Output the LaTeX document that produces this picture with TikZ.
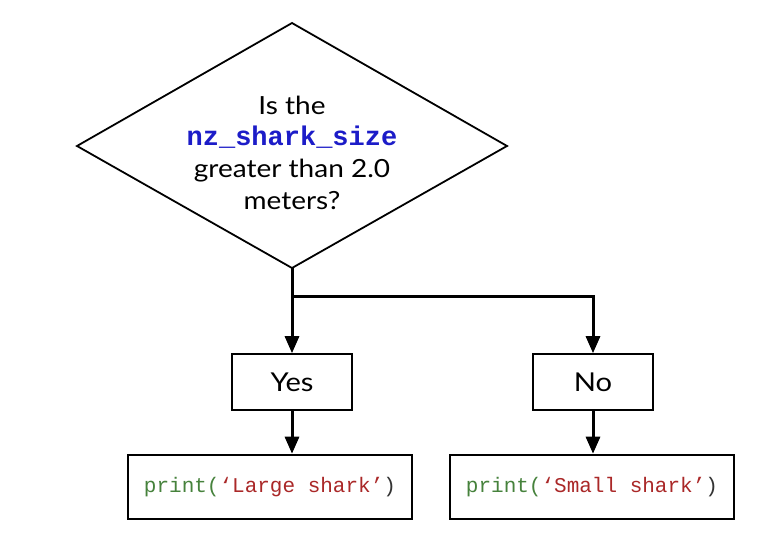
\documentclass[tikz,border=0pt]{standalone}
\usepackage{fontspec}
\setmainfont{Lato}[FakeStretch=1.12]
\newfontfamily\codefont{Liberation Mono}
\usetikzlibrary{arrows.meta}
\definecolor{codeblue}{RGB}{28,28,200}
\definecolor{codegreen}{RGB}{70,130,60}
\definecolor{codered}{RGB}{170,40,40}
\tikzset{
  box/.style={draw=black, line width=1.6pt, minimum width=120pt, minimum height=56pt, inner sep=0pt, font=\fontsize{26}{30}\selectfont},
  codebox/.style={draw=black, line width=2.6pt, minimum width=284pt, minimum height=64pt, inner sep=0pt, font=\codefont\fontsize{21}{24}\selectfont},
  conn/.style={line width=3pt, -{Triangle[length=17pt,width=14pt]}},
  plain/.style={line width=3pt},
}
\begin{document}
\begin{tikzpicture}[x=1pt,y=-1pt]
\useasboundingbox[fill=white] (0,0) rectangle (777,538);
\draw[line width=1.8pt, line join=miter] (292,23) -- (507,146) -- (292,268) -- (77,146) -- cycle;
\node[align=center, font=\fontsize{25}{32}\selectfont] (q) at (292,153) {Is the\\[-1pt]{\codefont\bfseries\fontsize{27}{28}\selectfont\color{codeblue}nz\_shark\_size}\\greater than 2.0\\meters?};
\coordinate (dbot) at (292,268);
\coordinate (split) at (292,296);
\coordinate (corner) at (593,296);
\node[box] (yes) at (292,382) {Yes};
\node[box] (no) at (593,382) {No};
\node[codebox] (large) at (270,487) {\textcolor{codegreen}{print(}\textcolor{codered}{‘Large shark’}\textcolor{black!80}{)}};
\node[codebox] (small) at (592,487) {\textcolor{codegreen}{print(}\textcolor{codered}{‘Small shark’}\textcolor{black!80}{)}};
\draw[conn] (dbot) -- (yes.north);
\draw[plain] (split) -- (corner);
\draw[conn] ([xshift=-1.5pt]corner) -- ([xshift=0pt]corner) -- (no.north);
\draw[conn] (yes.south) -- (yes.south |- large.north);
\draw[conn] (no.south) -- (no.south |- small.north);
\end{tikzpicture}
\end{document}
